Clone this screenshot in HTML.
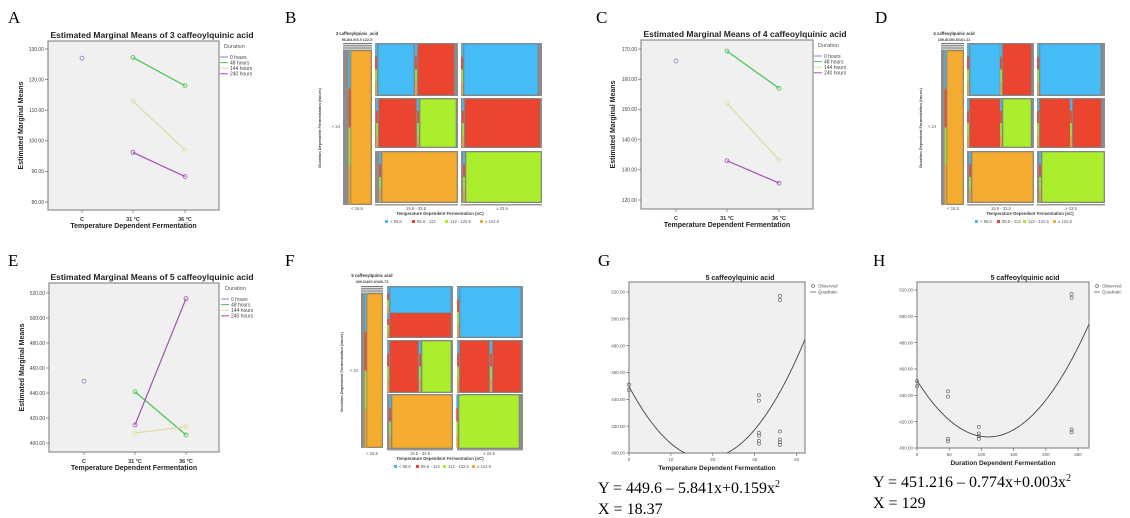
<!DOCTYPE html>
<html><head><meta charset="utf-8"><style>
html,body{margin:0;padding:0;background:#fff;}
svg{display:block;font-family:"Liberation Sans",sans-serif;}
.lbl{font-family:"Liberation Serif",serif;font-size:17px;}
.eq{font-family:"Liberation Serif",serif;font-size:16px;}
</style></head><body>
<svg id="fig" width="1130" height="518" viewBox="0 0 1130 518" xmlns="http://www.w3.org/2000/svg">
<g>
<text class="lbl" x="8" y="23">A</text>
<text class="lbl" x="285" y="23">B</text>
<text class="lbl" x="596" y="23">C</text>
<text class="lbl" x="875" y="23">D</text>
<text class="lbl" x="8" y="266">E</text>
<text class="lbl" x="285" y="266">F</text>
<text class="lbl" x="598" y="266">G</text>
<text class="lbl" x="873" y="266">H</text>
</g>
<text class="eq" x="598" y="493">Y = 449.6 – 5.841x+0.159x<tspan dy="-6" font-size="10">2</tspan></text>
<text class="eq" x="598" y="514">X = 18.37</text>
<text class="eq" x="873" y="487">Y = 451.216 – 0.774x+0.003x<tspan dy="-6" font-size="10">2</tspan></text>
<text class="eq" x="873" y="508">X = 129</text>
</svg>
<script>
// ---- data ----
const emmCats = ["C","31 °C","36 °C"];
const durations = ["0 hours","48 hours","144 hours","240 hours"];
const emmA0 = [127.0,null,null], emmA48=[null,127.2,118.0], emmA144=[null,113.0,97.0], emmA240=[null,96.2,88.3];
const emmAticks = [80,90,100,110,120,130];
const emmC0 = [166.0,null,null], emmC48=[null,169.3,157.0], emmC144=[null,152.0,133.3], emmC240=[null,133.0,125.6];
const emmCticks = [120,130,140,150,160,170];
const emmE0 = [449.5,null,null], emmE48=[null,441.0,406.5], emmE144=[null,408.0,413.0], emmE240=[null,414.5,515.5];
const emmEticks = [400,420,440,460,480,500,520];
const gObsX = [0,0,31,31,31,31,31,31,36,36,36,36,36,36];
const gObsY = [447,451,443,439,415,413,409,407,517,514,416,410,408,406];
const gCoef = [449.6,-5.841,0.159];
const gXticks = [0,10,20,30,40];
const hObsX = [0,0,48,48,48,48,96,96,96,96,240,240,240,240];
const hObsY = [447,451,443,439,407,405,416,411,409,407,517,514,414,412];
const hCoef = [451.216,-0.774,0.0035];
const hXticks = [0,50,100,150,200,250];
const fitYticks = [400,420,440,460,480,500,520];
const mosaicLegend = ["< 95.6","95.6 - 113","113 - 122.5","≥ 122.5"];
const mosaicCols = ["< 15.5","15.5 - 33.5","≥ 33.5"];

const NS="http://www.w3.org/2000/svg";
const svg=document.getElementById('fig');
function mk(tag,attrs,parent,txt){const e=document.createElementNS(NS,tag);for(const k in attrs)e.setAttribute(k,attrs[k]);if(txt!==undefined)e.textContent=txt;(parent||svg).appendChild(e);return e;}
const lineCols=["#7a86d6","#45c452","#dedba0","#a550b3"];

function emm(g,box,ymin,ymax,ticks,cats,series,title,titleX,yPos,legX){
  const sx=i=>box.cx[i];
  const sy=v=>box.y1-(v-ymin)/(ymax-ymin)*(box.y1-box.yTop);
  const r=mk('rect',{x:box.x0,y:box.y0,width:box.x1-box.x0,height:box.y1b-box.y0,fill:"#f0f0f0",stroke:"#8c8c8c","stroke-width":1.2},g);
  
  const t=mk('text',{x:titleX,y:box.y0-3,"text-anchor":"middle","font-size":8.5,"font-weight":"bold",fill:"#222"},g,title);
  
  ticks.forEach(v=>{const y=sy(v);
    const tl=mk('line',{x1:box.x0-3,x2:box.x0,y1:y,y2:y,stroke:"#555","stroke-width":0.6},g);
    
    const tt=mk('text',{x:box.x0-4,y:y+1.8,"text-anchor":"end","font-size":5,fill:"#444"},g,v.toFixed(2));
    });
  cats.forEach((c,i)=>{const tl=mk('line',{x1:sx(i),x2:sx(i),y1:box.y1b,y2:box.y1b+3,stroke:"#555","stroke-width":0.6},g);
    
    const tt=mk('text',{x:sx(i),y:box.y1b+11,"text-anchor":"middle","font-size":5.5,"font-weight":"bold",fill:"#333"},g,c);
    });
  const yt=mk('text',{x:0,y:0,"text-anchor":"middle","font-size":7,"font-weight":"bold",fill:"#222",transform:`translate(${yPos},${(box.y0+box.y1b)/2}) rotate(-90)`},g,"Estimated Marginal Means");
  
  const xt=mk('text',{x:(box.x0+box.x1)/2,y:box.y1b+18,"text-anchor":"middle","font-size":7,"font-weight":"bold",fill:"#222"},g,"Temperature Dependent Fermentation");
  
  series.forEach((s,k)=>{
    const pts=[];s.forEach((v,i)=>{if(v!==null)pts.push([sx(i),sy(v)]);});
    if(pts.length>1){const pl=mk('polyline',{points:pts.map(p=>p.join(',')).join(' '),fill:"none",stroke:lineCols[k],"stroke-width":1.2},g);
      }
    pts.forEach(p=>{const c=mk('circle',{cx:p[0],cy:p[1],r:2,fill:"none",stroke:lineCols[k],"stroke-width":0.8},g);
      });
  });
  const lt=mk('text',{x:legX+4,y:box.y0+7,"font-size":5.5,fill:"#555"},g,"Duration");
  
  durations.forEach((d,k)=>{const y=box.y0+16+k*5.6;
    const ll=mk('line',{x1:legX,x2:legX+8,y1:y,y2:y,stroke:lineCols[k],"stroke-width":1},g);
    
    const tx=mk('text',{x:legX+10,y:y+1.8,"font-size":5,fill:"#444"},g,d);
    });
}
let gA=mk('g',{});
emm(gA,{x0:48,x1:219,y0:41,y1b:210,yTop:49,y1:202,cx:[82,133,185]},80,130,emmAticks,emmCats,[emmA0,emmA48,emmA144,emmA240],"Estimated Marginal Means of 3 caffeoylquinic acid",152,23,220);
let gC=mk('g',{});
emm(gC,{x0:641,x1:813,y0:40,y1b:209,yTop:49,y1:200,cx:[676,727,779]},120,170,emmCticks,emmCats,[emmC0,emmC48,emmC144,emmC240],"Estimated Marginal Means of 4 caffeoylquinic acid",745,615,814);
let gE=mk('g',{});
emm(gE,{x0:49,x1:219,y0:283,y1b:452,yTop:293,y1:443,cx:[84,135,186]},400,520,emmEticks,emmCats,[emmE0,emmE48,emmE144,emmE240],"Estimated Marginal Means of 5 caffeoylquinic acid",152,24,221);

// ---- fit charts ----
function fit(g,box,xmax,xticks,obsX,obsY,coef,xtitle){
  const sx=v=>box.x0+v/xmax*(box.x1-box.x0);
  const sy=v=>box.y1-(v-400)/120*(box.y1-box.yTop);
  const r=mk('rect',{x:box.x0,y:box.y0,width:box.x1-box.x0,height:box.y1-box.y0,fill:"#f0f0f0",stroke:"#8c8c8c","stroke-width":1.2},g);
  
  const t=mk('text',{x:box.tx,y:box.y0-2,"text-anchor":"middle","font-size":7,"font-weight":"bold",fill:"#222"},g,"5 caffeoylquinic acid");
  
  fitYticks.forEach(v=>{const y=sy(v);
    const tl=mk('line',{x1:box.x0-3,x2:box.x0,y1:y,y2:y,stroke:"#555","stroke-width":0.6},g);
    
    const tt=mk('text',{x:box.x0-4,y:y+1.6,"text-anchor":"end","font-size":4.5,fill:"#555"},g,v.toFixed(2));
    });
  xticks.forEach(v=>{const x=sx(v);
    const tl=mk('line',{x1:x,x2:x,y1:box.y1,y2:box.y1+3,stroke:"#555","stroke-width":0.6},g);
    
    const tt=mk('text',{x:x,y:box.y1+8,"text-anchor":"middle","font-size":4.5,fill:"#555"},g,v);
    });
  const xt=mk('text',{x:(box.x0+box.x1)/2,y:box.y1+17,"text-anchor":"middle","font-size":6.5,"font-weight":"bold",fill:"#222"},g,xtitle);
  
  const cp=mk('clipPath',{id:'clip'+box.x0},g);mk('rect',{x:box.x0,y:box.y0,width:box.x1-box.x0,height:box.y1-box.y0},cp);
  let d='';for(let i=0;i<=200;i++){const x=xmax*i/200;const y=coef[0]+coef[1]*x+coef[2]*x*x;d+=(i?'L':'M')+sx(x).toFixed(2)+','+sy(y).toFixed(2);}
  const p=mk('path',{d:d,fill:"none",stroke:"#444","stroke-width":0.9,"clip-path":`url(#clip${box.x0})`},g);
  
  obsX.forEach((x,i)=>{const c=mk('circle',{cx:sx(x),cy:sy(obsY[i]),r:1.6,fill:"none",stroke:"#555","stroke-width":0.6},g);
    });
  const lc=mk('circle',{cx:box.lx+3,cy:box.y0+4,r:1.4,fill:"none",stroke:"#555","stroke-width":0.6},g);
  
  const l1=mk('text',{x:box.lx+8,y:box.y0+5.5,"font-size":4.5,fill:"#555"},g,"Observed");
  
  const ll=mk('line',{x1:box.lx,x2:box.lx+6,y1:box.y0+10,y2:box.y0+10,stroke:"#444","stroke-width":0.7},g);
  
  const l2=mk('text',{x:box.lx+8,y:box.y0+11.5,"font-size":4.5,fill:"#555"},g,"Quadratic");
  
}
let gG=mk('g',{});
fit(gG,{x0:629,x1:805,y0:282,y1:453,yTop:292,tx:740,lx:810},42,gXticks,gObsX,gObsY,gCoef,"Temperature Dependent Fermentation");
let gH=mk('g',{});
fit(gH,{x0:917,x1:1089,y0:282,y1:448,yTop:290,tx:1025,lx:1094},267,hXticks,hObsX,hObsY,hCoef,"Duration Dependent Fermentation");

// ---- mosaic plots ----
const MC={b:"#45bcf5",r:"#eb452f",g:"#aaee2e",o:"#f3ab30"};
function mosaic(g,P){
  const t1=mk('text',{x:P.tx,y:P.ty,"text-anchor":"middle","font-size":4.2,"font-weight":"bold",fill:"#333"},g,P.title);
  
  const t2=mk('text',{x:P.tx,y:P.ty+6,"text-anchor":"middle","font-size":3.8,"font-weight":"bold",fill:"#444"},g,P.sub);
  
  for(let i=0;i<4;i++){const ln=mk('rect',{x:P.lc[0],y:P.top+i*1.8,width:P.lc[1]-P.lc[0],height:1,fill:"#777"},g);
    }
  // left column
  const lg=mk('rect',{x:P.lc[0],y:P.lcy[0],width:P.lc[1]-P.lc[0],height:P.lcy[1]-P.lcy[0],fill:"#8c8c8c"},g);
  
  const segs=["b","r","g","o"];
  segs.forEach((s,i)=>{const h=(P.lcy[1]-P.lcy[0])/4;
    const sg=mk('rect',{x:P.lo-2.5,y:P.lcy[0]+i*h,width:2,height:h,fill:MC[s],opacity:0.75},g);
    });
  const lo=mk('rect',{x:P.lo,y:P.lcy[0]+1,width:P.lc[1]-P.lo-1,height:P.lcy[1]-P.lcy[0]-2,fill:MC.o,stroke:"#b07a20","stroke-width":0.5},g);
  
  P.cells.forEach(c=>{
    const [x0,x1,y0,y1]=c.box;
    const cg=mk('rect',{x:x0,y:y0,width:x1-x0,height:y1-y0,fill:"#8c8c8c"},g);
    
    c.blocks.forEach(b=>{
      const [bx0,bx1,by0,by1,col]=b;
      segs.forEach((s,i)=>{const h=(by1-by0)/4;
        const sg=mk('rect',{x:bx0-3,y:by0+i*h,width:2,height:h,fill:MC[s],opacity:0.75},g);
        });
      const bl=mk('rect',{x:bx0,y:by0,width:bx1-bx0,height:by1-by0,fill:MC[col],stroke:"#777","stroke-width":0.5},g);
      
    });
  });
  P.colBars.forEach(cb=>{const r=mk('rect',{x:cb[0],y:P.barY,width:cb[1]-cb[0],height:1.5,fill:"#999"},g);
    });
  mosaicCols.forEach((c,i)=>{const t=mk('text',{x:P.colX[i],y:P.barY+6,"text-anchor":"middle","font-size":4.2,fill:"#555"},g,c);
    });
  const xt=mk('text',{x:P.axX,y:P.barY+11,"text-anchor":"middle","font-size":4.3,"font-weight":"bold",fill:"#444"},g,"Temperature Dependent Fermentation (oC)");
  
  const yl=mk('text',{x:P.ylX,y:P.ylY,"text-anchor":"end","font-size":4.2,fill:"#555"},g,"< 24");
  
  const yt=mk('text',{x:0,y:0,"text-anchor":"middle","font-size":4,"font-weight":"bold",fill:"#444",transform:`translate(${P.ytX},${P.ylY}) rotate(-90)`},g,"Duration Dependent Fermentation (hours)");
  
  mosaicLegend.forEach((m,i)=>{const x=P.legX[i];
    const sq=mk('rect',{x:x,y:P.legY-3,width:3,height:3,fill:MC[segs[i]]},g);
    
    const tx=mk('text',{x:x+5,y:P.legY,"font-size":4.2,fill:"#555"},g,m);
    });
}
let gB=mk('g',{});
mosaic(gB,{title:"3 caffeoylquinic_acid",sub:"96.8/4.9/3.9 122.5",tx:357,ty:35,top:43,lc:[343,372],lcy:[50,205],lo:351,
  cells:[
   {box:[375,458,43,96],blocks:[[378,414,44,95,"b"],[418,454,44,95,"r"]]},
   {box:[461,542,43,96],blocks:[[464,538,44,95,"b"]]},
   {box:[375,458,98,148],blocks:[[379,416,99,147,"r"],[420,456,99,147,"g"]]},
   {box:[461,542,98,148],blocks:[[465,540,99,147,"r"]]},
   {box:[375,458,151,203],blocks:[[382,457,152,202,"o"]]},
   {box:[461,542,151,203],blocks:[[466,541,152,202,"g"]]}],
  colBars:[[375,458],[461,542]],barY:204,colX:[357,416,502],axX:440,ylX:340,ylY:128,ytX:321,legY:223,legX:[385,412,445,480]});
let gD=mk('g',{});
mosaic(gD,{title:"4 caffeoylquinic acid",sub:"150.8/150.8/161.11",tx:954,ty:35,top:43,lc:[941,964],lcy:[50,205],lo:947,
  cells:[
   {box:[967,1034,43,96],blocks:[[970,1000,44,95,"b"],[1003,1031,44,95,"r"]]},
   {box:[1037,1105,43,96],blocks:[[1040,1101,44,95,"b"]]},
   {box:[967,1034,98,148],blocks:[[970,1000,99,147,"r"],[1003,1031,99,147,"g"]]},
   {box:[1037,1105,98,148],blocks:[[1040,1070,99,147,"r"],[1073,1101,99,147,"r"]]},
   {box:[967,1034,151,203],blocks:[[972,1033,152,202,"o"]]},
   {box:[1037,1105,151,203],blocks:[[1042,1104,152,202,"g"]]}],
  colBars:[[967,1034],[1037,1105]],barY:204,colX:[953,1001,1071],axX:1030,ylX:936,ylY:128,ytX:922,legY:223,legX:[975,997,1023,1053]});
let gF=mk('g',{});
mosaic(gF,{title:"5 caffeoylquinic acid",sub:"400.0/400.0/426.71",tx:372,ty:277,top:286,lc:[361,383],lcy:[293,448],lo:367,
  cells:[
   {box:[387,453,286,338],blocks:[[390,451,287,313,"b"],[390,451,313,337,"r"]]},
   {box:[457,523,286,338],blocks:[[460,521,287,337,"b"]]},
   {box:[387,453,340,393],blocks:[[390,418,341,392,"r"],[422,451,341,392,"g"]]},
   {box:[457,523,340,393],blocks:[[460,489,341,392,"r"],[493,521,341,392,"r"]]},
   {box:[387,453,394,449],blocks:[[392,452,395,448,"o"]]},
   {box:[457,523,394,449],blocks:[[459,519,395,448,"g"]]}],
  colBars:[[387,453],[457,523]],barY:449,colX:[372,420,489],axX:440,ylX:358,ylY:372,ytX:343,legY:468,legX:[394,416,443,472]});
</script>
</body></html>
